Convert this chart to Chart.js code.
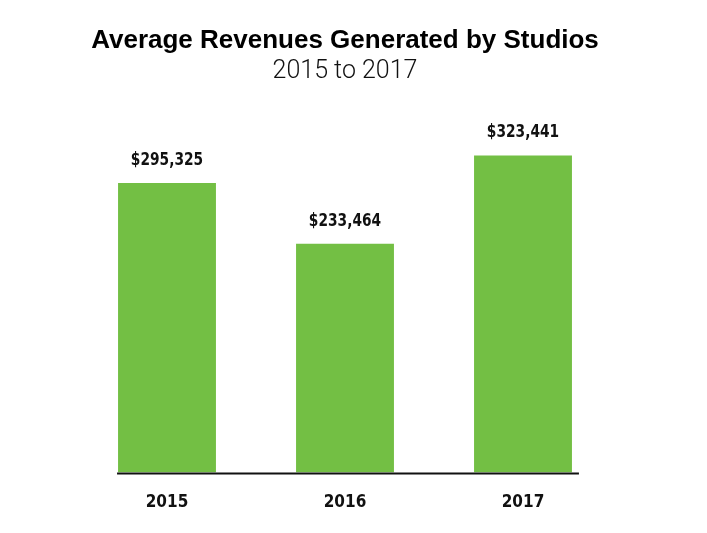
<!DOCTYPE html>
<html>
<head>
<meta charset="utf-8">
<script src="https://cdn.jsdelivr.net/npm/chart.js@4.4.1/dist/chart.umd.min.js"></script>
<style>
  html, body { margin: 0; padding: 0; background: #ffffff; }
  #wrap { position: relative; width: 707px; height: 533px; }
</style>
</head>
<body>
<div id="wrap"><canvas id="c" width="707" height="533"></canvas></div>
<script>
const categories = ['2015', '2016', '2017'];
const revenues = [295325, 233464, 323441];
const valueLabels = ['$295,325', '$233,464', '$323,441'];
const titleText = 'Average Revenues Generated by Studios';
const subtitleText = '2015 to 2017';

const condensed = '"DejaVu Sans Condensed", "Liberation Sans", Arial, sans-serif';

const valueLabelPlugin = {
  id: 'valueLabels',
  afterDatasetsDraw(chart) {
    const ctx = chart.ctx;
    const meta = chart.getDatasetMeta(0);
    ctx.save();
    // baseline
    const first = meta.data[0], last = meta.data[meta.data.length - 1];
    const y0 = chart.scales.y.getPixelForValue(0);
    ctx.strokeStyle = '#111111';
    ctx.lineWidth = 2;
    ctx.beginPath();
    ctx.moveTo(first.x - first.width / 2 - 1, y0 + 1);
    ctx.lineTo(last.x + last.width / 2 + 7, y0 + 1);
    ctx.stroke();
    // value labels (horizontally condensed)
    ctx.fillStyle = '#111111';
    ctx.font = 'bold 18px ' + condensed;
    ctx.textAlign = 'center';
    ctx.textBaseline = 'alphabetic';
    meta.data.forEach((bar, i) => {
      ctx.save();
      ctx.translate(bar.x, bar.y - 18);
      ctx.scale(0.85, 1);
      ctx.fillText(valueLabels[i], 0, 0);
      ctx.restore();
    });
    ctx.restore();
  }
};

new Chart(document.getElementById('c'), {
  type: 'bar',
  data: {
    labels: categories,
    datasets: [{
      data: revenues,
      backgroundColor: '#73bf44',
      borderWidth: 0,
      barPercentage: 0.55,
      categoryPercentage: 1.0
    }]
  },
  options: {
    responsive: false,
    animation: false,
    devicePixelRatio: 1,
    layout: { padding: { left: 78, right: 95, top: 0, bottom: 0 } },
    plugins: {
      legend: { display: false },
      tooltip: { enabled: false },
      title: {
        display: true,
        text: titleText,
        color: '#000000',
        font: { family: '"Liberation Sans", Arial, sans-serif', size: 26, weight: 'bold' },
        padding: { top: 25, bottom: 0 }
      },
      subtitle: {
        display: true,
        text: subtitleText,
        color: '#111111',
        font: { family: 'Roboto, Lato, "Open Sans", sans-serif', size: 25, weight: '300' },
        padding: { top: 1, bottom: 52 }
      }
    },
    scales: {
      x: {
        grid: { display: false, drawTicks: false },
        border: { display: false },
        ticks: {
          color: '#111111',
          font: { family: condensed, size: 17, weight: 'bold' },
          padding: 20
        }
      },
      y: {
        display: false,
        min: 0,
        max: 340000
      }
    }
  },
  plugins: [valueLabelPlugin]
});
</script>
</body>
</html>
